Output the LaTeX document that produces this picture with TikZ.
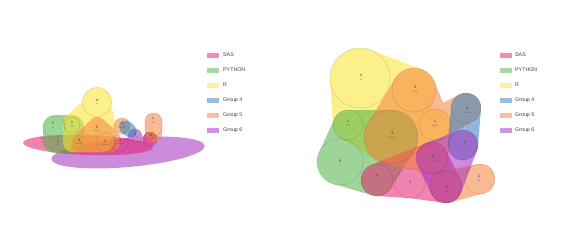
\documentclass[tikz,border=0pt]{standalone}
\usepackage{fontspec}
\setmainfont{Liberation Sans}
\definecolor{cS}{RGB}{228,30,110}
\definecolor{cP}{RGB}{77,180,70}
\definecolor{cR}{RGB}{250,228,45}
\definecolor{cGf}{RGB}{50,125,190}
\definecolor{cGv}{RGB}{245,130,60}
\definecolor{cGs}{RGB}{165,45,190}
\newcommand\hulledge[6]{%
  \pgfmathsetmacro\hL{veclen(#4-#1,#5-#2)}%
  \pgfmathsetmacro\hdx{(#4-#1)/\hL}%
  \pgfmathsetmacro\hdy{(#5-#2)/\hL}%
  \pgfmathsetmacro\hk{(#3-#6)/\hL}%
  \pgfmathsetmacro\hs{sqrt(1-\hk*\hk)}%
  \pgfmathsetmacro\hnx{\hs*\hdy+\hk*\hdx}%
  \pgfmathsetmacro\hny{-\hs*\hdx+\hk*\hdy}%
  \fill (#1,#2) -- ({#1+#3*\hnx},{#2+#3*\hny}) -- ({#4+#6*\hnx},{#5+#6*\hny}) -- (#4,#5) -- cycle;}
\begin{document}
\begin{tikzpicture}[x=1pt,y=-1pt,
  setgrp/.style={transparency group, opacity=0.55, every path/.append style={fill=#1}},
  elem/.style={draw=black, draw opacity=0.12, line width=0.6pt},
  numl/.style={inner sep=0, font=\fontsize{3.6}{4}\selectfont, text=black!85},
  subl/.style={inner sep=0, font=\fontsize{1.9}{2}\selectfont, text=black!70},
  swatch/.style={minimum width=12pt, minimum height=5pt, inner sep=0, draw=none, fill opacity=0.5},
  legtext/.style={anchor=west, inner sep=0, font=\fontsize{5.3}{6}\selectfont, text=black!75}]
\useasboundingbox (0,0) rectangle (564,249);
\fill[white] (0,0) rectangle (564,249);

%%%%%%%%%%%%%%%% LEFT DIAGRAM %%%%%%%%%%%%%%%%
% Group 6 (purple ellipse)
\begin{scope}[setgrp=cGs]
  \fill[rotate around={5:(128,152)}] (128,152.5) ellipse [x radius=77, y radius=14.5];
  \fill (135,136) circle[radius=7];
  \fill (150,139) circle[radius=7];
\end{scope}
% SAS (pink ellipse)
\begin{scope}[setgrp=cS]
  \fill[rotate around={-2:(88,145)}] (88,145) ellipse [x radius=65, y radius=10];
  \fill (150,139) circle[radius=7];
\end{scope}
% PYTHON
\begin{scope}[setgrp=cP]
  \fill[rounded corners=12pt] (43,115) rectangle (84,153);
\end{scope}
% R
\begin{scope}[setgrp=cR]
  \fill (97,102) circle[radius=14.5];
  \fill[rounded corners=8pt] (84,100) -- (110,100) -- (116,125) -- (112,152) -- (64,152) -- (62,120) -- cycle;
\end{scope}
% Group 5
\begin{scope}[setgrp=cGv]
  \fill[rounded corners=7pt] (97,114) -- (122,136) -- (118,152) -- (72,152) -- (70,140) -- cycle;
  \fill (122,126) circle[radius=8];
  \fill[rounded corners=8pt] (145,113) rectangle (162,142);
\end{scope}
% Group 4
\begin{scope}[setgrp=cGf]
  \fill[rotate around={-40:(128,129)}] (128,129) ellipse [x radius=10, y radius=7];
\end{scope}
% element circles (left)
\draw[elem] (97,102) circle[radius=14.5];
\draw[elem] (54,127) circle[radius=11];
\draw[elem] (72,125) circle[radius=8];
\draw[elem] (122,126) circle[radius=8];
\draw[elem] (135,136) circle[radius=7];
\draw[elem] (105.5,142) circle[radius=9.5];
\draw[elem] (119.5,143.5) circle[radius=8.5];
\draw[elem] (150,139) circle[radius=7];
\draw[elem, rounded corners=8pt] (145,113) rectangle (162,136);
% labels (left)
\node[numl] (la) at (97,100) {4};   \node[subl] (las) at (97,104) {R};
\node[numl] (lb) at (53,123) {2};   \node[subl] (lbs) at (53,127.5) {P};
\node[numl] (lc) at (72,122) {1};   \node[subl] (lcs) at (72,126.5) {P, R};
\node[numl] (ld) at (97,127) {2};   \node[subl] (lds) at (97,131) {R, G5};
\node[numl] (le) at (122,123) {1};  \node[subl] (les) at (122,127.5) {G4, G5};
\node[numl] (lf) at (153,118) {1};  \node[subl] (lfs) at (153,122.5) {G5};
\node[numl] (lg) at (42,138) {1};   \node[subl] (lgs) at (42,142.5) {S};
\node[numl] (lh) at (58,141) {1};   \node[subl] (lhs) at (58,145) {S, P};
\node[numl] (li) at (79,140) {3};   \node[subl] (lis) at (79,144) {P, R, G5};
\node[numl] (lj) at (105,141) {1};  \node[subl] (ljs) at (105,145) {R, G5, G6};
\node[numl] (lk) at (120,140) {1};  \node[subl] (lks) at (120,144) {S, G5, G6};
\node[numl] (ll) at (135,134) {1};  \node[subl] (lls) at (135,138) {G4, G6};
\node[numl] (lm) at (151,135) {1};  \node[subl] (lms) at (151,139) {S, G6};

%%%%%%%%%%%%%%%% RIGHT DIAGRAM %%%%%%%%%%%%%%%%
% R : A B D C, pill D-H
\begin{scope}[setgrp=cR]
  \fill (360,78) -- (414,90) -- (391,137) -- (348,125) -- cycle;
  \fill (360,78) circle[radius=30];
  \fill (414,90) circle[radius=22];
  \fill (391,137) circle[radius=27];
  \fill (348,125) circle[radius=15];
  \hulledge{360}{78}{30}{414}{90}{22}
  \hulledge{414}{90}{22}{391}{137}{27}
  \hulledge{391}{137}{27}{348}{125}{15}
  \hulledge{348}{125}{15}{360}{78}{30}
  \fill (435,125) circle[radius=16];
  \hulledge{391}{137}{27}{435}{125}{16}
  \hulledge{435}{125}{16}{391}{137}{27}
\end{scope}
% PYTHON : C D F E
\begin{scope}[setgrp=cP]
  \fill (348,125) -- (391,137) -- (377,180) -- (340,162) -- cycle;
  \fill (348,125) circle[radius=15];
  \fill (391,137) circle[radius=27];
  \fill (377,180) circle[radius=16];
  \fill (340,162) circle[radius=23];
  \hulledge{348}{125}{15}{391}{137}{27}
  \hulledge{391}{137}{27}{377}{180}{16}
  \hulledge{377}{180}{16}{340}{162}{23}
  \hulledge{340}{162}{23}{348}{125}{15}
\end{scope}
% SAS : F J L G
\begin{scope}[setgrp=cS]
  \fill (377,180) -- (432,158) -- (446,187) -- (410,183) -- cycle;
  \fill (377,180) circle[radius=16];
  \fill (432,158) circle[radius=16];
  \fill (446,187) circle[radius=16];
  \fill (410,183) circle[radius=15];
  \hulledge{377}{180}{16}{432}{158}{16}
  \hulledge{432}{158}{16}{446}{187}{16}
  \hulledge{446}{187}{16}{410}{183}{15}
  \hulledge{410}{183}{15}{377}{180}{16}
\end{scope}
% Group 5 : B H J D, pill H-I, pill L-M
\begin{scope}[setgrp=cGv]
  \fill (414,90) -- (435,125) -- (432,158) -- (391,137) -- cycle;
  \fill (414,90) circle[radius=22];
  \fill (435,125) circle[radius=16];
  \fill (432,158) circle[radius=16];
  \fill (391,137) circle[radius=27];
  \hulledge{414}{90}{22}{435}{125}{16}
  \hulledge{435}{125}{16}{432}{158}{16}
  \hulledge{432}{158}{16}{391}{137}{27}
  \hulledge{391}{137}{27}{414}{90}{22}
  \fill (466,108) circle[radius=15];
  \hulledge{435}{125}{16}{466}{108}{15}
  \hulledge{466}{108}{15}{435}{125}{16}
  \fill (446,187) circle[radius=16];
  \fill (480,179) circle[radius=15];
  \hulledge{446}{187}{16}{480}{179}{15}
  \hulledge{480}{179}{15}{446}{187}{16}
\end{scope}
% Group 4 : pill I-K
\begin{scope}[setgrp=cGf]
  \fill (466,108) circle[radius=15];
  \fill (463,145) circle[radius=15];
  \hulledge{466}{108}{15}{463}{145}{15}
  \hulledge{463}{145}{15}{466}{108}{15}
\end{scope}
% Group 6 : J K L
\begin{scope}[setgrp=cGs]
  \fill (432,158) -- (463,145) -- (446,187) -- cycle;
  \fill (432,158) circle[radius=16];
  \fill (463,145) circle[radius=15];
  \fill (446,187) circle[radius=16];
  \hulledge{432}{158}{16}{463}{145}{15}
  \hulledge{463}{145}{15}{446}{187}{16}
  \hulledge{446}{187}{16}{432}{158}{16}
\end{scope}
% element circles (right)
\draw[elem] (360,78) circle[radius=30];
\draw[elem] (414,90) circle[radius=22];
\draw[elem] (348,125) circle[radius=15];
\draw[elem] (391,137) circle[radius=27];
\draw[elem] (340,162) circle[radius=23];
\draw[elem] (377,180) circle[radius=16];
\draw[elem] (410,183) circle[radius=15];
\draw[elem] (435,125) circle[radius=16];
\draw[elem] (466,108) circle[radius=15];
\draw[elem] (432,158) circle[radius=16];
\draw[elem] (463,145) circle[radius=15];
\draw[elem] (446,187) circle[radius=16];
\draw[elem] (480,179) circle[radius=15];
% labels (right)
\node[numl] (ra) at (361,75) {4};   \node[subl] (ras) at (361,79.5) {R};
\node[numl] (rb) at (415,87) {2};   \node[subl] (rbs) at (415,91.5) {R, G5};
\node[numl] (rc) at (348,121.5) {1};\node[subl] (rcs) at (348,126) {P, R};
\node[numl] (rd) at (392,133.5) {3};\node[subl] (rds) at (392,138) {P, R, G5};
\node[numl] (re) at (340,161.5) {2};\node[subl] (res) at (340,166) {P};
\node[numl] (rf) at (377,175.5) {1};\node[subl] (rfs) at (377,180) {S, P};
\node[numl] (rg) at (410,182.5) {1};\node[subl] (rgs) at (410,187) {S};
\node[numl] (rh) at (435,121.5) {1};\node[subl] (rhs) at (435,126) {R, G5};
\node[numl] (ri) at (467,108) {1};  \node[subl] (ris) at (467,112.5) {G4, G5};
\node[numl] (rj) at (433,156.5) {1};\node[subl] (rjs) at (433,161) {S, G5, G6};
\node[numl] (rk) at (465,142) {1};  \node[subl] (rks) at (465,146.5) {G4, G6};
\node[numl] (rl) at (447,187) {1};  \node[subl] (rls) at (447,191.5) {S, G6};
\node[numl] (rm) at (479,176) {1};  \node[subl] (rms) at (479,180.5) {G5};

%%%%%%%%%%%%%%%% LEGENDS %%%%%%%%%%%%%%%%
\foreach \lx/\tx/\pf in {213/223/L, 506/515/R}{
  \node[swatch, fill=cS]  (sw1\pf) at (\lx,55) {};  \node[legtext] (tx1\pf) at (\tx,55) {SAS};
  \node[swatch, fill=cP]  (sw2\pf) at (\lx,70) {};  \node[legtext] (tx2\pf) at (\tx,70) {PYTHON};
  \node[swatch, fill=cR]  (sw3\pf) at (\lx,85) {};  \node[legtext] (tx3\pf) at (\tx,85) {R};
  \node[swatch, fill=cGf] (sw4\pf) at (\lx,100) {}; \node[legtext] (tx4\pf) at (\tx,100) {Group 4};
  \node[swatch, fill=cGv] (sw5\pf) at (\lx,115) {}; \node[legtext] (tx5\pf) at (\tx,115) {Group 5};
  \node[swatch, fill=cGs] (sw6\pf) at (\lx,130) {}; \node[legtext] (tx6\pf) at (\tx,130) {Group 6};
}
\end{tikzpicture}
\end{document}
